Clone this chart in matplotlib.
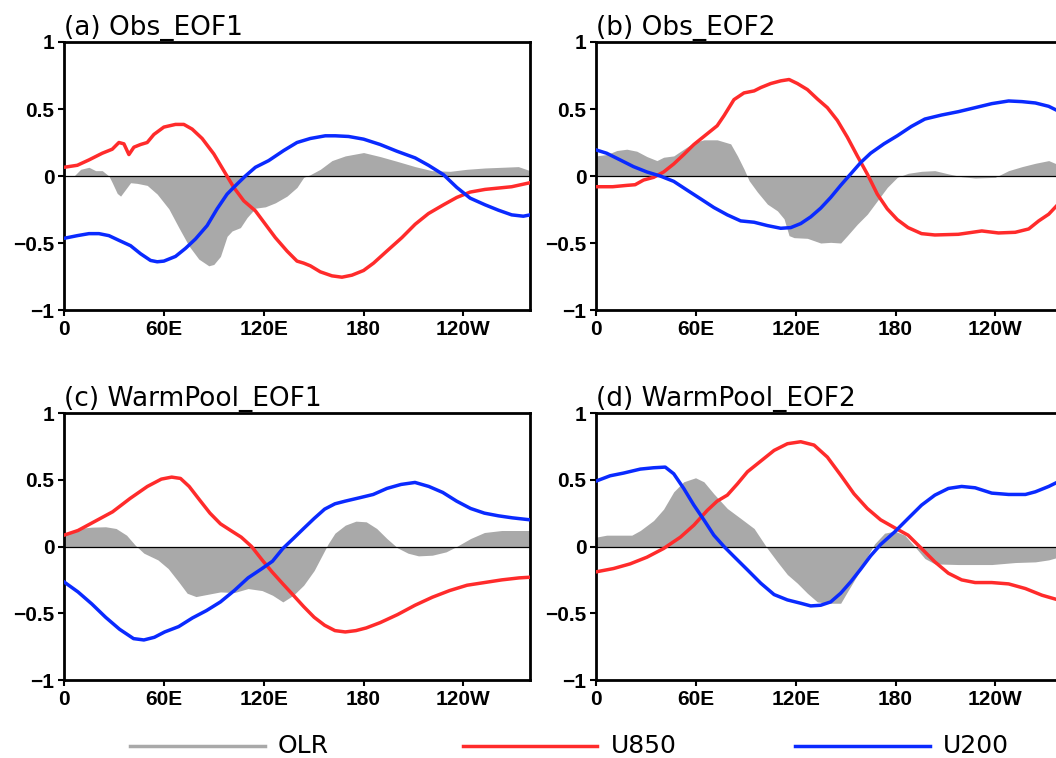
import matplotlib
matplotlib.use("Agg")
import matplotlib.pyplot as plt
from matplotlib.lines import Line2D

# (a) Obs_EOF1
a_olr_lon = [0, 6, 10, 15, 19, 23, 27, 29, 32, 34, 37, 40, 44, 50, 56, 63, 69, 75, 81, 87,
             90, 94, 98, 101, 106, 110, 115, 121, 127, 134, 140, 144, 148, 154, 161, 169, 180,
             190, 200, 211, 221, 232, 242, 253, 263, 273, 280]
a_olr = [0, 0, 0.05, 0.065, 0.04, 0.04, 0.0, -0.05, -0.13, -0.15, -0.10, -0.05, -0.055, -0.07,
         -0.135, -0.245, -0.385, -0.52, -0.62, -0.67, -0.66, -0.60, -0.45, -0.41, -0.385, -0.31,
         -0.24, -0.23, -0.20, -0.15, -0.085, -0.01, 0.01, 0.05, 0.115, 0.15, 0.175, 0.145, 0.11,
         0.07, 0.04, 0.035, 0.05, 0.06, 0.065, 0.07, 0.04]
a_u850_lon = [0, 8, 15, 23, 29, 33, 36, 39, 42, 46, 50, 54, 60, 67, 72, 77, 83, 90, 96, 102,
              108, 115, 121, 127, 134, 140, 144, 148, 154, 161, 167, 173, 180, 186, 194, 203,
              211, 219, 228, 236, 244, 253, 261, 269, 280]
a_u850 = [0.065, 0.08, 0.12, 0.17, 0.20, 0.25, 0.24, 0.16, 0.215, 0.235, 0.25, 0.31, 0.365,
          0.385, 0.385, 0.35, 0.28, 0.165, 0.04, -0.085, -0.185, -0.26, -0.36, -0.46, -0.56,
          -0.635, -0.65, -0.67, -0.715, -0.745, -0.755, -0.74, -0.705, -0.65, -0.56, -0.46,
          -0.36, -0.28, -0.215, -0.16, -0.12, -0.10, -0.09, -0.08, -0.05]
a_u200_lon = [0, 8, 15, 21, 27, 33, 40, 46, 52, 56, 60, 67, 73, 79, 86, 92, 98, 104, 109, 115,
              123, 132, 140, 148, 157, 163, 171, 180, 190, 200, 211, 219, 228, 236, 244, 253,
              261, 269, 276, 280]
a_u200 = [-0.465, -0.445, -0.43, -0.43, -0.445, -0.48, -0.52, -0.58, -0.63, -0.64, -0.635,
          -0.60, -0.54, -0.47, -0.37, -0.245, -0.135, -0.06, 0.0, 0.065, 0.115, 0.19, 0.25,
          0.28, 0.30, 0.30, 0.295, 0.275, 0.235, 0.185, 0.135, 0.08, 0.01, -0.085, -0.165,
          -0.215, -0.255, -0.29, -0.30, -0.29]

# (b) Obs_EOF2
b_olr_lon = [0, 6.4, 12.5, 18.5, 24.5, 30.6, 36.6, 40.6, 46.7, 52.7, 58.8, 64.8, 72.8, 80.9,
             85, 89, 92, 97, 103, 109, 113, 116, 119, 127, 135, 141, 147, 151, 157, 163, 169,
             175, 181, 187.5, 195.6, 203.6, 212, 219.7, 227.8, 239.8, 247.9, 256, 264, 272, 277.7]
b_olr = [0.15, 0.16, 0.19, 0.20, 0.185, 0.145, 0.115, 0.14, 0.15, 0.20, 0.25, 0.27, 0.27, 0.24,
         0.15, 0.05, -0.035, -0.12, -0.21, -0.26, -0.32, -0.445, -0.46, -0.465, -0.50, -0.495,
         -0.50, -0.445, -0.36, -0.285, -0.185, -0.085, -0.01, 0.02, 0.035, 0.04, 0.015, -0.005,
         -0.015, -0.01, 0.04, 0.07, 0.095, 0.115, 0.085]
b_u850_lon = [0, 10, 18.5, 23.5, 28.6, 34.6, 40.6, 46.7, 52.7, 58.8, 66.8, 72.8, 76.9, 82.9,
              88.9, 95, 99, 105, 111, 116, 121, 127, 133, 139, 145, 151, 157, 163, 169, 175,
              181, 187.5, 195.6, 203.6, 217.7, 231.8, 241.8, 251.9, 260, 266, 272, 277.7]
b_u850 = [-0.08, -0.08, -0.07, -0.065, -0.03, -0.01, 0.03, 0.09, 0.16, 0.235, 0.315, 0.375,
          0.45, 0.57, 0.62, 0.635, 0.66, 0.69, 0.71, 0.72, 0.69, 0.645, 0.575, 0.51, 0.415,
          0.29, 0.15, 0.015, -0.135, -0.245, -0.325, -0.385, -0.43, -0.44, -0.435, -0.41,
          -0.425, -0.42, -0.395, -0.335, -0.285, -0.21]
b_u200_lon = [0, 6.4, 14.5, 22.5, 30.6, 38.6, 46.7, 54.7, 62.8, 70.8, 78.9, 86.9, 95, 103, 111,
              117, 123, 129, 135, 141, 147, 153, 159, 165, 173, 181, 189.5, 197.6, 207.6, 217.7,
              227.8, 237.8, 247.9, 256, 264, 272, 277.7]
b_u200 = [0.195, 0.17, 0.12, 0.07, 0.03, 0.0, -0.04, -0.105, -0.17, -0.235, -0.29, -0.335,
          -0.345, -0.37, -0.39, -0.385, -0.355, -0.305, -0.24, -0.16, -0.07, 0.015, 0.10, 0.17,
          0.24, 0.30, 0.37, 0.425, 0.455, 0.48, 0.51, 0.54, 0.56, 0.555, 0.545, 0.52, 0.485]

# (c) WarmPool_EOF1
c_olr_lon = [0, 8.4, 16.7, 25, 31.3, 37.6, 42.8, 48, 56.4, 62.6, 68.9, 74, 79.3, 85.6, 94,
             102.3, 110.6, 119, 125.3, 131.5, 137.8, 144, 150.3, 154.5, 158.7, 162.8, 169,
             175.4, 181.6, 187.9, 194, 200.4, 206.7, 213, 221.3, 229.6, 235.9, 244.3, 252.6,
             263, 273.5, 280]
c_olr = [0.085, 0.135, 0.145, 0.148, 0.135, 0.085, 0.01, -0.05, -0.10, -0.165, -0.265, -0.35,
         -0.375, -0.36, -0.34, -0.345, -0.315, -0.33, -0.365, -0.415, -0.365, -0.29, -0.18,
         -0.08, 0.02, 0.10, 0.16, 0.19, 0.185, 0.135, 0.06, -0.01, -0.05, -0.07, -0.065, -0.04,
         0.0, 0.06, 0.105, 0.12, 0.12, 0.12]
c_u850_lon = [0, 8.4, 18.8, 29.2, 39.7, 50.1, 58.5, 64.7, 70, 75.2, 81.4, 87.7, 94, 100.2,
              106.5, 112.7, 119, 125, 131.5, 137.8, 144, 150.3, 156.6, 162.8, 169, 175.4,
              181.6, 190, 200.4, 210.9, 221.3, 231.7, 242.2, 252.6, 263, 273.5, 280]
c_u850 = [0.085, 0.12, 0.19, 0.26, 0.36, 0.45, 0.505, 0.52, 0.51, 0.45, 0.35, 0.25, 0.17, 0.12,
          0.07, 0.0, -0.10, -0.19, -0.28, -0.365, -0.45, -0.53, -0.59, -0.63, -0.64, -0.63,
          -0.61, -0.57, -0.51, -0.44, -0.38, -0.33, -0.29, -0.27, -0.25, -0.235, -0.23]
c_u200_lon = [0, 8.4, 16.7, 25, 33.4, 41.8, 48, 54.3, 60.5, 68.9, 77.2, 85.6, 94, 102.3, 110.6,
              119, 125.3, 131.5, 137.8, 144, 150.3, 156.6, 162.8, 169, 177.5, 185.8, 194,
              202.5, 210.9, 219.2, 227.6, 235.9, 244.3, 252.6, 261, 269.3, 280]
c_u200 = [-0.265, -0.34, -0.43, -0.53, -0.62, -0.69, -0.70, -0.68, -0.64, -0.60, -0.535, -0.48,
          -0.415, -0.33, -0.235, -0.165, -0.11, -0.015, 0.06, 0.135, 0.21, 0.28, 0.32, 0.34,
          0.365, 0.39, 0.435, 0.465, 0.48, 0.45, 0.405, 0.34, 0.285, 0.25, 0.23, 0.215, 0.20]

# (d) WarmPool_EOF2
d_olr_lon = [0, 6.4, 14.5, 21.5, 26.6, 34.6, 40.6, 46.7, 52.7, 59.8, 64.8, 70.8, 78.9, 87, 95,
             99, 103, 109, 115, 121, 127, 133, 139, 147, 151, 157, 163, 167.4, 173.4, 179.5,
             185.5, 191.5, 197.6, 203.6, 217.7, 237.8, 251.9, 264, 272, 277.7]
d_olr = [0.07, 0.085, 0.085, 0.085, 0.12, 0.195, 0.28, 0.41, 0.485, 0.515, 0.485, 0.395, 0.285,
         0.21, 0.135, 0.06, -0.015, -0.115, -0.21, -0.275, -0.35, -0.415, -0.425, -0.425,
         -0.34, -0.215, -0.075, 0.02, 0.10, 0.115, 0.085, 0.0, -0.09, -0.13, -0.135, -0.135,
         -0.12, -0.115, -0.10, -0.08]
d_u850_lon = [0, 10.5, 20.5, 30.6, 40.6, 50.7, 58.8, 66.8, 72.8, 78.9, 85, 91, 99, 107, 115,
              123, 131, 139, 147, 155, 163, 171, 179.5, 187.5, 195.6, 203.6, 211.7, 219.7,
              227.8, 237.8, 247.9, 258, 268, 277.7]
d_u850 = [-0.19, -0.165, -0.13, -0.08, -0.015, 0.07, 0.16, 0.27, 0.34, 0.385, 0.47, 0.56, 0.64,
          0.72, 0.77, 0.785, 0.76, 0.67, 0.535, 0.395, 0.285, 0.20, 0.14, 0.085, -0.015,
          -0.115, -0.20, -0.25, -0.27, -0.27, -0.28, -0.315, -0.365, -0.40]
d_u200_lon = [0, 8.5, 16.5, 26.6, 34.6, 41.6, 46.7, 52.7, 58.8, 64.8, 70.8, 76.9, 82.9, 91, 99,
              107, 115, 123, 129, 135, 141, 147, 153, 159, 165, 171, 179.5, 187.5, 195.6, 203.6,
              211.7, 219.7, 227.8, 237.8, 247.9, 258, 264, 272, 277.7]
d_u200 = [0.49, 0.53, 0.55, 0.58, 0.59, 0.595, 0.545, 0.435, 0.31, 0.20, 0.085, 0.0, -0.075,
          -0.175, -0.275, -0.36, -0.40, -0.425, -0.445, -0.44, -0.415, -0.35, -0.265, -0.17,
          -0.07, 0.015, 0.11, 0.21, 0.31, 0.385, 0.435, 0.45, 0.44, 0.40, 0.39, 0.39, 0.41,
          0.45, 0.485]

titles = ["(a) Obs_EOF1", "(b) Obs_EOF2", "(c) WarmPool_EOF1", "(d) WarmPool_EOF2"]
xticks = [0, 60, 120, 180, 240]
xticklabels = ["0", "60E", "120E", "180", "120W"]
yticks = [-1, -0.5, 0, 0.5, 1]
yticklabels = ["\u22121", "\u22120.5", "0", "0.5", "1"]
legend_names = ["OLR", "U850", "U200"]

gray = "#a9a9a9"
red = "#ff2b2b"
blue = "#0a2aff"

fig = plt.figure(figsize=(10.56, 7.58), dpi=100)

# axes boxes in figure fractions (the right column runs past the figure edge, as in the source)
boxes = [
    [0.0606, 0.591, 0.4413, 0.3536],
    [0.5644, 0.591, 0.4413, 0.3536],
    [0.0606, 0.1029, 0.4413, 0.3522],
    [0.5644, 0.1029, 0.4413, 0.3522],
]
panels = [
    (a_olr_lon, a_olr, a_u850_lon, a_u850, a_u200_lon, a_u200),
    (b_olr_lon, b_olr, b_u850_lon, b_u850, b_u200_lon, b_u200),
    (c_olr_lon, c_olr, c_u850_lon, c_u850, c_u200_lon, c_u200),
    (d_olr_lon, d_olr, d_u850_lon, d_u850, d_u200_lon, d_u200),
]

for box, title, (olon, olr, rlon, u850, blon, u200) in zip(boxes, titles, panels):
    ax = fig.add_axes(box)
    ax.fill_between(olon, 0, olr, color=gray, lw=0, zorder=1)
    ax.axhline(0, color="black", lw=0.9, zorder=2)
    ax.plot(rlon, u850, color=red, lw=2.5, zorder=3)
    ax.plot(blon, u200, color=blue, lw=2.5, zorder=4)

    ax.set_xlim(0, 280)
    ax.set_ylim(-1, 1)
    ax.set_xticks(xticks)
    ax.set_xticklabels(xticklabels)
    ax.set_yticks(yticks)
    ax.set_yticklabels(yticklabels)
    for lab in ax.get_xticklabels() + ax.get_yticklabels():
        lab.set_family("Liberation Sans")
        lab.set_fontweight("bold")
        lab.set_fontsize(15)
    ax.tick_params(direction="out", length=4, width=1.5, pad=3)
    for sp in ax.spines.values():
        sp.set_linewidth(2)
    ax.set_title(title, loc="left", fontsize=19, pad=5, family="DejaVu Sans")

# hand-made legend row under the panels
leg_y = 1 - 746 / 758
leg_items = [(130, 265, 278, gray), (463, 597, 611, red), (795, 930, 943, blue)]
for name, (x0, x1, xt, col) in zip(legend_names, leg_items):
    fig.add_artist(Line2D([x0 / 1056, x1 / 1056], [leg_y, leg_y],
                          transform=fig.transFigure, color=col, lw=2.5))
    fig.text(xt / 1056, leg_y, name, fontsize=18, va="center", ha="left",
             family="DejaVu Sans")

fig.savefig("out.png", dpi=100)
